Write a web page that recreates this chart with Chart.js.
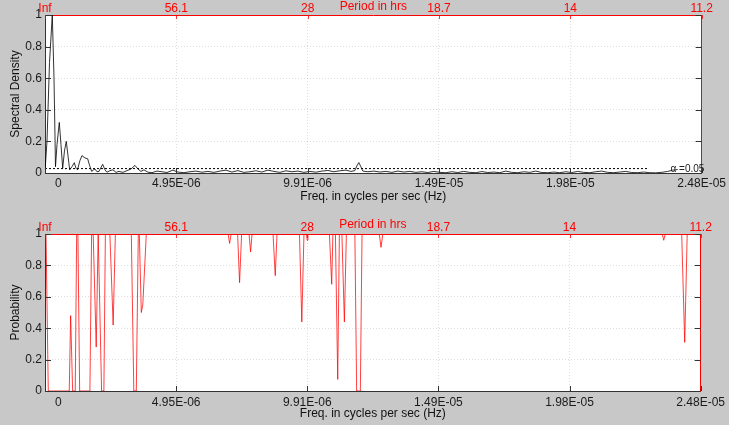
<!DOCTYPE html>
<html>
<head>
<meta charset="utf-8">
<script src="https://cdn.jsdelivr.net/npm/chart.js@4.4.1/dist/chart.umd.min.js"></script>
<style>
  body { margin: 0; background: #c8c8c8; }
  #wrap { position: relative; width: 729px; height: 425px; }
  canvas { position: absolute; left: 0; }
  #spec { top: 0; }
  #prob { top: 212px; }
</style>
</head>
<body>
<div id="wrap">
  <canvas id="spec" width="729" height="212"></canvas>
  <canvas id="prob" width="729" height="213"></canvas>
</div>
<script>
// frequency axis is in micro-Hz, labels show Hz
const freqTicks = [0, 4.955, 9.91, 14.865, 19.82, 24.775];
const freqLabels = ['        0', '4.95E-06', '9.91E-06', '1.49E-05', '1.98E-05', '2.48E-05'];
const periodLabels = ['Inf', '56.1', '28', '18.7', '14', '11.2'];
const yTicks = [0, 0.2, 0.4, 0.6, 0.8, 1];
const yLabels = ['0', '0.2', '0.4', '0.6', '0.8', '1'];

const specFreq = [
  0, 0.075, 0.170, 0.275, 0.340, 0.396, 0.453, 0.539, 0.603, 0.667, 0.735, 0.803, 0.867, 0.931,
  1.018, 1.105, 1.169, 1.226, 1.320, 1.395, 1.508, 1.610, 1.678, 1.761, 1.829, 1.886, 1.961,
  2.036, 2.176, 2.263, 2.338, 2.451, 2.564, 2.677, 2.790, 2.941, 3.092, 3.243, 3.394, 3.507,
  3.620, 3.733, 3.884, 4.035, 4.223, 4.412, 4.601, 4.827, 5.015, 5.242, 5.468, 5.694, 5.920,
  6.147, 6.373, 6.599, 6.826, 7.052, 7.278, 7.504, 7.731, 7.957, 8.183, 8.409, 8.636, 8.862,
  9.088, 9.314, 9.541, 9.767, 9.993, 10.219, 10.446, 10.672, 10.898, 11.124, 11.351, 11.539,
  11.690, 11.766, 11.841, 11.916, 11.992, 12.180, 12.407, 12.633, 12.859, 13.085, 13.312,
  13.538, 13.764, 13.990, 14.217, 14.443, 14.669, 14.895, 15.122, 15.348, 15.574, 15.800,
  16.027, 16.253, 16.479, 16.705, 16.932, 17.158, 17.384, 17.611, 17.837, 18.063, 18.289,
  18.516, 18.742, 18.968, 19.194, 19.421, 19.647, 19.873, 20.099, 20.326, 20.552, 20.778,
  21.004, 21.231, 21.457, 21.683, 21.909, 22.136, 22.362, 22.588, 22.815, 23.041, 23.267,
  23.493, 23.682, 23.871
];
const specPower = [
  0.01, 0.2, 0.7, 1.0, 0.6, 0.04, 0.18, 0.32, 0.18, 0.03, 0.14, 0.20, 0.11, 0.02,
  0.04, 0.065, 0.03, 0.02, 0.08, 0.11, 0.095, 0.09, 0.05, 0.01, 0.02, 0.025, 0.008,
  0.01, 0.055, 0.02, 0.005, 0.015, 0.02, 0.004, 0.01, 0.004, 0.015, 0.025, 0.048, 0.025,
  0.01, 0.02, 0.005, 0.002, 0.012, 0.008, 0.003, 0.018, 0.006, 0.002, 0.008, 0.012, 0.005,
  0.01, 0.004, 0.012, 0.018, 0.006, 0.015, 0.004, 0.008, 0.014, 0.006, 0.018, 0.01, 0.004,
  0.014, 0.008, 0.012, 0.004, 0.01, 0.005, 0.012, 0.016, 0.008, 0.014, 0.018, 0.01,
  0.015, 0.045, 0.066, 0.04, 0.012, 0.008, 0.012, 0.006, 0.01, 0.004, 0.012,
  0.006, 0.01, 0.004, 0.008, 0.003, 0.01, 0.004, 0.002, 0.008, 0.003, 0.01,
  0.004, 0.002, 0.009, 0.003, 0.006, 0.002, 0.012, 0.004, 0.002, 0.008, 0.004,
  0.012, 0.003, 0.002, 0.006, 0.002, 0.008, 0.003, 0.01, 0.004, 0.002, 0.008,
  0.012, 0.004, 0.002, 0.006, 0.01, 0.003, 0.002, 0.006, 0.002, 0.001, 0.004,
  0.01, 0.018, 0.022
];
const alphaLevel = 0.028;
const alphaEnd = 22.74;
const alphaText = 'α =0.05';

const probFreq = [
  0, 0.038, 0.124, 0.916, 0.969, 1.044, 1.143, 1.196, 1.244, 1.309, 1.697, 1.761, 1.821,
  1.935, 2.010, 2.036, 2.138, 2.225, 2.281, 2.451, 2.576, 2.659, 3.262, 3.356, 3.450, 3.526,
  3.564, 3.639, 3.696, 3.828, 6.920, 6.976, 7.033, 7.278, 7.353, 7.429, 7.712, 7.768, 7.825,
  8.617, 8.700, 8.768, 9.616, 9.703, 9.786, 9.880, 9.907, 9.937, 10.747, 10.834, 10.879,
  10.974, 11.061, 11.124, 11.219, 11.313, 11.388, 11.709, 11.777, 11.916, 11.980, 12.633,
  12.697, 12.765, 23.324, 23.380, 23.437, 24.059, 24.173, 24.267, 24.775
];
const probValue = [
  1, 1, 0, 0, 0.48, 0, 0, 1, 1, 0, 0, 1, 1,
  0.28, 1, 1, 0, 0, 1, 1, 0.42, 1, 1, 0, 0, 1,
  1, 0.5, 0.55, 1, 1, 0.94, 1, 1, 0.69, 1, 1, 0.886, 1,
  1, 0.735, 1, 1, 0.44, 1, 1, 0.96, 1, 1, 0.68, 1,
  1, 0.074, 1, 1, 0.44, 1, 1, 0, 0, 1, 1,
  0.915, 1, 1, 0.96, 1, 1, 0.31, 1, 1
];

Chart.defaults.font.family = "'Liberation Sans', Arial, sans-serif";
Chart.defaults.font.size = 12;
Chart.defaults.color = '#1a1a1a';

const gridColor = (n) => (c) => (c.index === 0 || c.index === n - 1) ? 'rgba(0,0,0,0)' : 'rgba(0,0,0,0.13)';

// white plot box, inward tick marks, top title and the alpha note
const frameTicks = {
  id: 'frameTicks',
  beforeDraw(chart) {
    const { ctx, chartArea: a } = chart;
    ctx.save();
    ctx.fillStyle = '#ffffff';
    ctx.fillRect(a.left, a.top, a.right - a.left, a.bottom - a.top);
    ctx.restore();
  },
  afterDatasetsDraw(chart, args, o) {
    const { ctx, chartArea: a, scales } = chart;
    ctx.save();
    ctx.lineWidth = 1;
    ctx.strokeStyle = '#333';
    ctx.beginPath();
    freqTicks.forEach(v => {
      const x = Math.round(scales.x.getPixelForValue(v)) + 0.5;
      ctx.moveTo(x, a.bottom); ctx.lineTo(x, a.bottom - 5);
    });
    yTicks.forEach(v => {
      const y = Math.round(scales.y.getPixelForValue(v)) + 0.5;
      ctx.moveTo(a.left, y); ctx.lineTo(a.left + 6, y);
      ctx.moveTo(a.right, y); ctx.lineTo(a.right - 6, y);
    });
    ctx.stroke();
    ctx.strokeStyle = 'rgba(255,0,0,0.8)';
    ctx.beginPath();
    freqTicks.forEach(v => {
      const x = Math.round(scales.x2.getPixelForValue(v)) + 0.5;
      ctx.moveTo(x, a.top); ctx.lineTo(x, a.top + 4);
    });
    ctx.stroke();

    ctx.fillStyle = '#ff0000';
    ctx.font = "12px 'Liberation Sans', Arial, sans-serif";
    ctx.textAlign = 'center';
    ctx.textBaseline = 'middle';
    const px = (scales.x2.getPixelForValue(freqTicks[2]) + scales.x2.getPixelForValue(freqTicks[3])) / 2;
    ctx.fillText('Period in hrs', px, a.top - o.periodDy);

    if (o.alpha) {
      ctx.fillStyle = '#222';
      ctx.font = "10px 'Liberation Sans', Arial, sans-serif";
      ctx.textAlign = 'left';
      ctx.fillText(alphaText, scales.x.getPixelForValue(23.6), scales.y.getPixelForValue(0.022));
    }
    ctx.restore();
  }
};

function makeChart(id, datasets, o) {
  return new Chart(document.getElementById(id), {
    type: 'line',
    data: { datasets },
    plugins: [frameTicks],
    options: {
      responsive: false,
      animation: false,
      devicePixelRatio: 1,
      layout: { padding: 0 },
      plugins: { legend: { display: false }, tooltip: { enabled: false }, frameTicks: o },
      elements: { point: { radius: 0 }, line: { tension: 0 } },
      scales: {
        x: {
          type: 'linear', position: 'bottom', min: 0, max: 24.775,
          afterBuildTicks: s => { s.ticks = freqTicks.map(v => ({ value: v })); },
          afterFit: s => { s.height = o.bottomH; },
          ticks: { autoSkip: false, maxRotation: 0, padding: o.tickPad, callback: (v, i) => freqLabels[i] },
          grid: { drawTicks: false, color: gridColor(freqTicks.length) },
          border: { color: '#333', dash: [1, 2] },
          title: { display: true, text: 'Freq. in cycles per sec (Hz)', color: '#111', padding: { top: 0, bottom: o.titlePad } }
        },
        x2: {
          type: 'linear', position: 'top', min: 0, max: 24.775,
          afterBuildTicks: s => { s.ticks = freqTicks.map(v => ({ value: v })); },
          afterFit: s => { s.height = o.topH; },
          ticks: { autoSkip: false, maxRotation: 0, padding: 0, color: '#ff0000', font: { lineHeight: 1 }, callback: (v, i) => periodLabels[i] },
          grid: { display: false, drawTicks: false },
          border: { color: '#ff0000' }
        },
        y: {
          type: 'linear', position: 'left', min: 0, max: 1,
          afterBuildTicks: s => { s.ticks = yTicks.map(v => ({ value: v })); },
          afterFit: s => { s.width = 45; },
          ticks: { padding: 3, callback: (v, i) => yLabels[i] },
          grid: { drawTicks: false, color: gridColor(yTicks.length) },
          border: { color: '#333', dash: [1, 2] },
          title: { display: true, text: o.yTitle, color: '#111', padding: { top: 8, bottom: 0 } }
        },
        y2: {
          type: 'linear', position: 'right', min: 0, max: 1,
          afterFit: s => { s.width = 27; },
          ticks: { display: false },
          grid: { display: false, drawTicks: false },
          border: { color: '#ff0000' }
        }
      }
    }
  });
}

makeChart('spec', [
  {
    data: specFreq.map((f, i) => ({ x: f, y: specPower[i] })),
    borderColor: 'rgba(0,0,0,0.8)', borderWidth: 1
  },
  {
    data: [{ x: 0, y: alphaLevel }, { x: alphaEnd, y: alphaLevel }],
    borderColor: '#000', borderWidth: 1, borderDash: [2, 2]
  }
], { yTitle: 'Spectral Density', topH: 15, bottomH: 39, tickPad: 3, titlePad: 7.8, periodDy: 8, alpha: true });

makeChart('prob', [
  {
    data: probFreq.map((f, i) => ({ x: f, y: probValue[i] })),
    borderColor: 'rgba(255,0,0,0.75)', borderWidth: 1
  }
], { yTitle: 'Probability', topH: 22, bottomH: 34, tickPad: 4, titlePad: 3.8, periodDy: 9.5, alpha: false });
</script>
</body>
</html>
